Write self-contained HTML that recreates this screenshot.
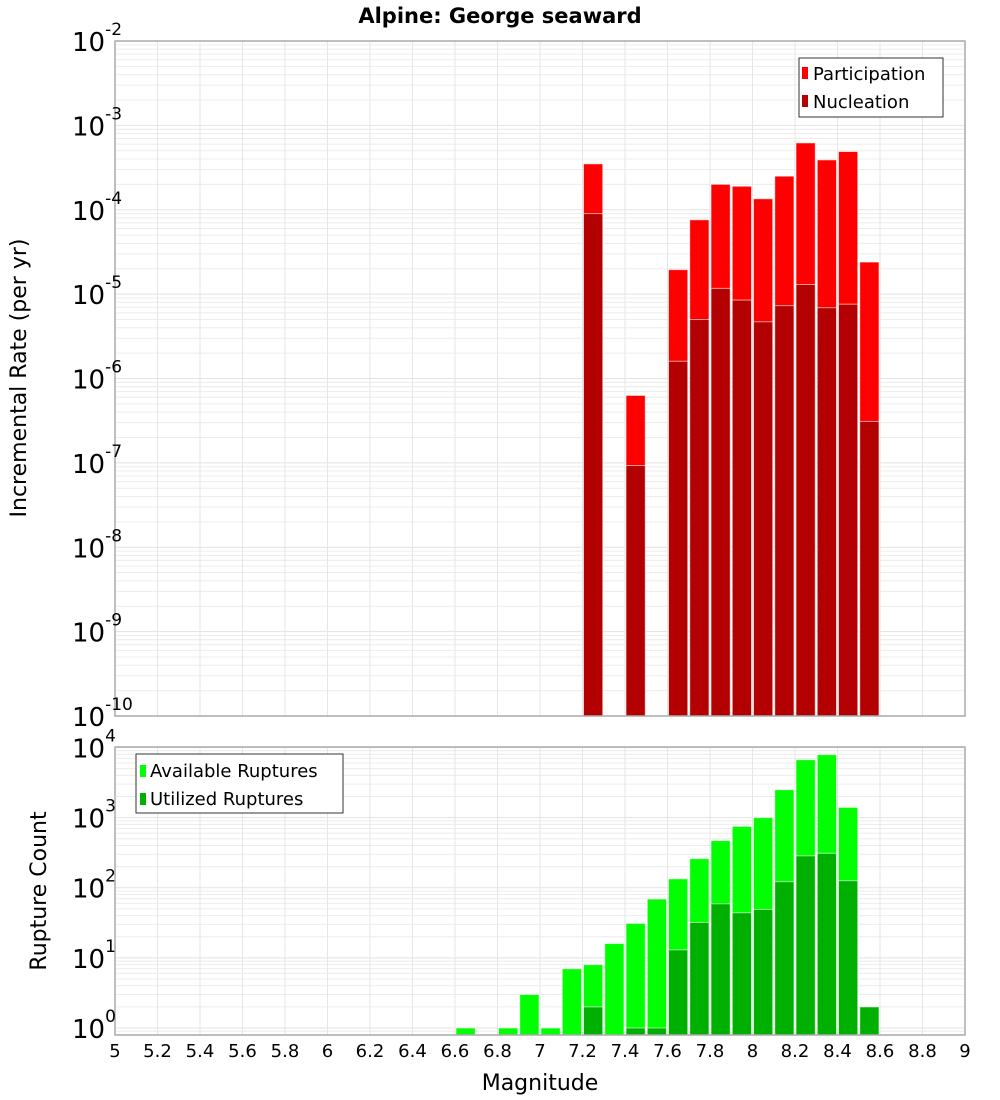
<!DOCTYPE html>
<html><head><meta charset="utf-8"><style>
body{margin:0;background:#fff;}
svg{display:block;font-family:"DejaVu Sans","Liberation Sans",sans-serif;}
</style></head><body>
<svg id="chart" width="1000" height="1100" xmlns="http://www.w3.org/2000/svg">
<text x="500" y="23" text-anchor="middle" font-size="21" font-weight="bold">Alpine: George seaward</text>
<g id="top"></g>
<g id="bot"></g>
<text transform="translate(26,378) rotate(-90)" text-anchor="middle" font-size="22">Incremental Rate (per yr)</text>
<text transform="translate(46,891) rotate(-90)" text-anchor="middle" font-size="22">Rupture Count</text>
<text x="540" y="1090" text-anchor="middle" font-size="22">Magnitude</text>
<g>
<rect x="799" y="58" width="144" height="59" fill="#fff" stroke="#333" stroke-width="1"/>
<rect x="802" y="67" width="6" height="12" fill="#ff0000"/>
<text x="813" y="80" font-size="18">Participation</text>
<rect x="802" y="95" width="6" height="12" fill="#b30000"/>
<text x="813" y="108" font-size="18">Nucleation</text>
</g>
<g>
<rect x="136" y="754" width="207" height="59" fill="#fff" stroke="#333" stroke-width="1"/>
<rect x="140" y="765" width="6" height="12" fill="#00ff00"/>
<text x="150" y="777" font-size="18">Available Ruptures</text>
<rect x="140" y="793" width="6" height="12" fill="#00b000"/>
<text x="150" y="805" font-size="18">Utilized Ruptures</text>
</g>
</svg>
<script>
const binStarts=[6.6,6.8,6.9,7.0,7.1,7.2,7.3,7.4,7.5,7.6,7.7,7.8,7.9,8.0,8.1,8.2,8.3,8.4,8.5];
const participation=[0,0,0,0,0,3.5e-4,0,6.3e-7,0,1.95e-5,7.6e-5,2.0e-4,1.9e-4,1.35e-4,2.5e-4,6.2e-4,3.9e-4,4.9e-4,2.4e-5];
const nucleation=[0,0,0,0,0,9e-5,0,9.3e-8,0,1.6e-6,5e-6,1.17e-5,8.5e-6,4.7e-6,7.3e-6,1.3e-5,6.9e-6,7.6e-6,3.1e-7];
const available=[1,1,3,1,7,8,16,31,69,134,260,470,750,1000,2500,6700,7900,1400,0];
const utilized=[0,0,0,0,0,2,0,1,1,13,32,59,44,49,122,285,310,126,2];
const xTicks=["5","5.2","5.4","5.6","5.8","6","6.2","6.4","6.6","6.8","7","7.2","7.4","7.6","7.8","8","8.2","8.4","8.6","8.8","9"];
const topExps=[-10,-9,-8,-7,-6,-5,-4,-3,-2];
const botExps=[0,1,2,3,4];
const NS="http://www.w3.org/2000/svg";
const L=115,R=965;
function X(m){return L+(m-5)/4*(R-L);}
function mk(p,t,a){const e=document.createElementNS(NS,t);for(const k in a)e.setAttribute(k,a[k]);p.appendChild(e);return e;}
function panel(g,top,bot,lmin,lmax,exps,s1,s2,c1,c2,nm1,nm2,showX){
  const Y=v=>bot-(Math.log10(v)-lmin)/(lmax-lmin)*(bot-top);
  mk(g,'rect',{x:L,y:top,width:R-L,height:bot-top,fill:'#fff'});
  for(let e=Math.floor(lmin);e<=Math.ceil(lmax);e++)for(let k=1;k<10;k++){
    const v=k*Math.pow(10,e);const lv=Math.log10(v);if(lv<lmin||lv>lmax)continue;
    const y=Y(v);const l=mk(g,'line',{x1:L,x2:R,y1:y,y2:y,stroke:k==1?'#e2e2e2':'#ececec','stroke-width':1});
    }
  xTicks.forEach(t=>{const x=X(+t);const l=mk(g,'line',{x1:x,x2:x,y1:top,y2:bot,stroke:'#e6e6e6'});
    });
  binStarts.forEach((m,i)=>{
    [[s1[i],c1,nm1],[s2[i],c2,nm2]].forEach(([v,c,n])=>{
      if(!(v>0))return;const y=Math.max(top,Y(v));
      const r=mk(g,'rect',{x:X(m)+1,y:y,width:X(m+0.1)-X(m)-2,height:bot-y,fill:c,stroke:'#fff','stroke-opacity':0.6,'stroke-width':1});
      });
  });
  mk(g,'rect',{x:L,y:top,width:R-L,height:bot-top,fill:'none',stroke:'#aaa','stroke-width':1.5});
  exps.forEach(e=>{const y=Y(Math.pow(10,e));
    const t=mk(g,'text',{x:L-10,y:y+10,'text-anchor':'end','font-size':26});
    
    const a=mk(t,'tspan',{});a.textContent='10';
    const b=mk(t,'tspan',{dy:-16,'font-size':17});b.textContent=String(e);
    if(e<0){t.setAttribute('text-anchor','start');t.setAttribute('x',L-43);}
    else{t.setAttribute('text-anchor','start');t.setAttribute('x',L-43);}
  });
  if(showX)xTicks.forEach(tk=>{const t=mk(g,'text',{x:X(+tk),y:bot+22,'text-anchor':'middle','font-size':18});
    t.textContent=tk;});
}
panel(document.getElementById('top'),41,716,-10,-2,topExps,participation,nucleation,'#ff0000','#b30000','participation','nucleation',false);
panel(document.getElementById('bot'),747,1035,-0.1,4.007,botExps,available,utilized,'#00ff00','#00b000','available','utilized',true);
</script>
</body></html>
